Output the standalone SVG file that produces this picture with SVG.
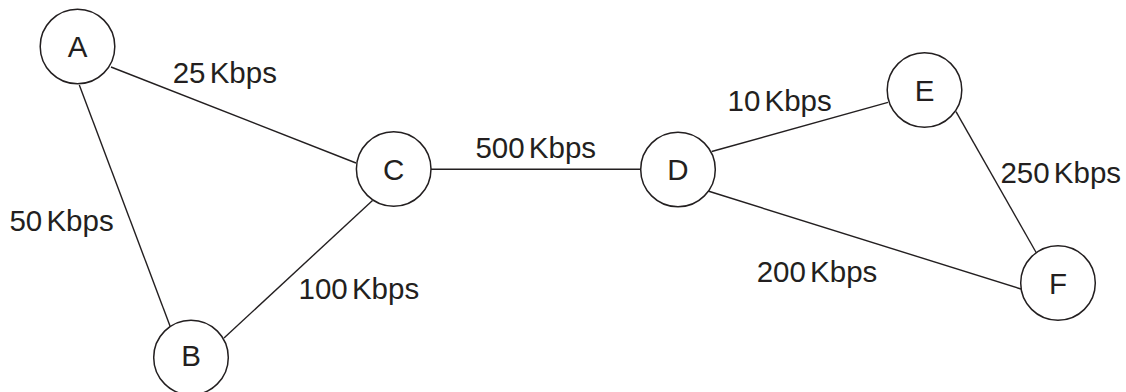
<svg xmlns="http://www.w3.org/2000/svg" width="1126" height="392" viewBox="0 0 1126 392">
<style>
.edge{stroke:#231f20;stroke-width:1.4;fill:none}
.node circle{fill:#fff;stroke:#231f20;stroke-width:1.5}
.node text{font-family:"Liberation Sans",Arial,sans-serif;font-size:29.5px;fill:#231f20;text-anchor:middle}
.lbl{font-family:"Liberation Sans",Arial,sans-serif;font-size:29.5px;fill:#231f20;word-spacing:-4px}
</style>
<rect width="1126" height="392" fill="#fff"/>
<g id="connectors">
<line class="edge" x1="111" y1="67" x2="356" y2="163"/>
<line class="edge" x1="79.3" y1="85" x2="170" y2="326"/>
<line class="edge" x1="224" y1="338" x2="372.5" y2="200.5"/>
<line class="edge" x1="430.7" y1="169.3" x2="641" y2="169.3"/>
<line class="edge" x1="711.7" y1="151.5" x2="888" y2="102.3"/>
<line class="edge" x1="708" y1="191" x2="1021" y2="289"/>
<line class="edge" x1="956" y1="111.7" x2="1037" y2="254"/>
</g>
<g id="edge-labels">
<text class="lbl" x="172.7" y="83.3">25 Kbps</text>
<text class="lbl" x="9.4" y="231">50 Kbps</text>
<text class="lbl" x="298.5" y="299.3">100 Kbps</text>
<text class="lbl" x="475.4" y="158.3">500 Kbps</text>
<text class="lbl" x="727.5" y="110.7">10 Kbps</text>
<text class="lbl" x="1000.4" y="182.7">250 Kbps</text>
<text class="lbl" x="756.7" y="281.7">200 Kbps</text>
</g>
<g id="node-A" class="node"><circle cx="77.5" cy="46.5" r="37.3"/><text x="77.5" y="57.3">A</text></g>
<g id="node-B" class="node"><circle cx="191" cy="357.5" r="37.3"/><text x="191" y="366">B</text></g>
<g id="node-C" class="node"><circle cx="393.7" cy="169" r="37.3"/><text x="393.7" y="179.5">C</text></g>
<g id="node-D" class="node"><circle cx="678" cy="169.5" r="37.3"/><text x="678" y="180">D</text></g>
<g id="node-E" class="node"><circle cx="924.5" cy="90" r="37.3"/><text x="924.5" y="100.5">E</text></g>
<g id="node-F" class="node"><circle cx="1058" cy="283" r="37.3"/><text x="1058" y="294">F</text></g>
</svg>
